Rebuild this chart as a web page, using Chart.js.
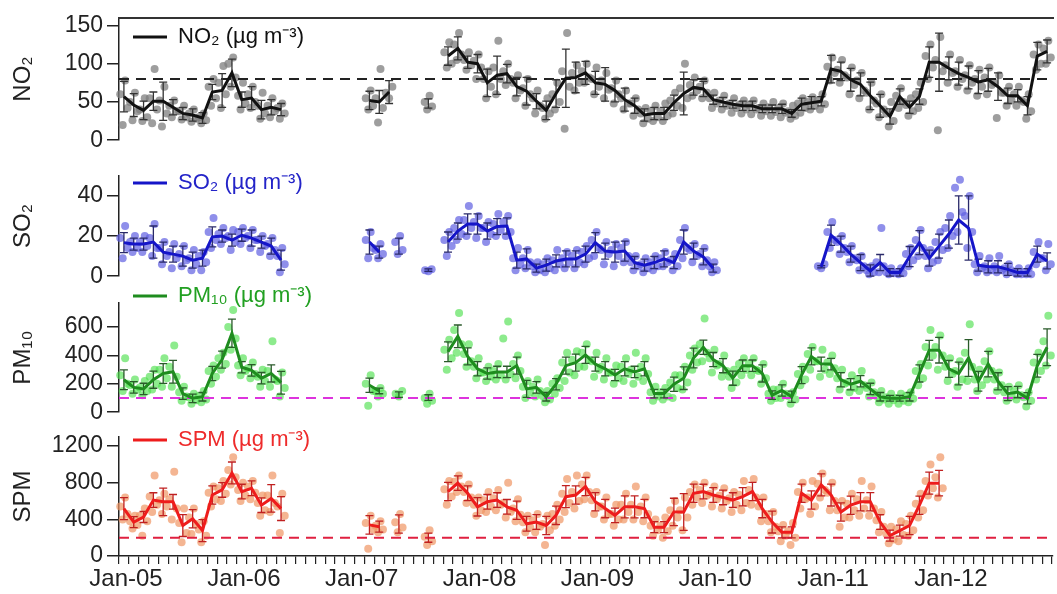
<!DOCTYPE html>
<html>
<head>
<meta charset="utf-8">
<script src="https://cdn.jsdelivr.net/npm/chart.js@4.4.1/dist/chart.umd.min.js"></script>
<style>
  html, body { margin: 0; padding: 0; background: #fff; }
  #wrap { position: relative; width: 1057px; height: 594px; overflow: hidden; background: #fff; }
  #wrap canvas { position: absolute; left: 0; }
</style>
</head>
<body>
<div id="wrap">
  <canvas id="no2" width="1057" height="158" style="top:0px"></canvas>
  <canvas id="so2" width="1057" height="136" style="top:158px"></canvas>
  <canvas id="pm10" width="1057" height="159" style="top:271px"></canvas>
  <canvas id="spm" width="1057" height="179" style="top:415px"></canvas>
</div>
<script>
const N = null;
// month index 0 = Jan-05 ... 94 = Nov-12
const yearTicks = ['Jan-05','Jan-06','Jan-07','Jan-08','Jan-09','Jan-10','Jan-11','Jan-12'];
const no2Ticks = [0, 50, 100, 150];
const so2Ticks = [0, 20, 40];
const pm10Ticks = [0, 200, 400, 600];
const spmTicks = [0, 400, 800, 1200];

const no2Mean = [57,46,39,51,51,43,35,33,29,63,65,88,53,55,40,43,40,
  N,N,N,N,N,N,N,N,
  52,50,63,N,N,N,48,N,
  110,120,102,100,75,85,87,70,64,51,
  39,61,81,82,88,75,73,65,53,45,
  33,35,35,49,61,69,67,53,50,47,
  45,45,41,41,41,35,47,49,51,93,
  90,79,73,58,45,31,57,43,57,102,
  102,94,87,82,76,79,70,58,58,45,
  110,116];
const no2Err = [20,15,12,12,25,10,8,8,7,10,22,18,10,15,12,10,8,
  N,N,N,N,N,N,N,N,
  12,15,15,N,N,N,6,N,
  12,15,8,12,18,25,12,12,18,10,
  12,18,38,20,15,15,22,15,15,10,
  8,8,8,10,28,10,10,6,6,5,
  6,6,5,5,6,5,8,8,6,18,
  12,15,15,18,15,10,10,8,10,20,
  38,15,15,15,15,15,18,10,8,12,
  18,15];

const so2Mean = [16.7,16,16,17,12,11,10,8,9,19.6,20,18,20.4,19,17,15,8,
  N,N,N,N,N,N,N,N,
  17,12,N,15,N,N,3,N,
  17,22.5,26,26,22.5,24.7,25,8,8.6,4,
  5.5,7.6,8.6,8.6,11,16.7,12.5,12,12.5,6.8,
  5.5,6.8,8.6,6.8,17,12.5,9.6,4,
  N,N,N,N,N,N,N,N,N,N,
  4.7,20.4,16,11,6.8,2.6,6.8,1.8,1.8,9.8,
  16.7,9,15,21,28,24,5.5,4.7,4.7,3.4,
  1.8,1.8,11,7.6];
const so2Err = [5,3,3,8,5,4,5,4,4,5,3,3,3,4,3,4,5,
  N,N,N,N,N,N,N,N,
  6,3,N,4,N,N,0.6,N,
  5,4,5,5,4,4,4,4,5,2,
  3,3,4,4,4,5,4,5,5,3,
  3,3,4,3,6,4,4,2,
  N,N,N,N,N,N,N,N,N,N,
  0.6,5,4,4,4,3,4,2,2,5,
  6,4,6,7,12,16,3,3,3,3,
  2,2,4,4];

const pm10Mean = [229,175,164,229,273,285,131,98,109,273,371,557,317,295,240,273,208,
  N,N,N,N,N,N,N,N,
  190,150,N,124,N,N,103,N,
  426,535,393,306,273,284,284,328,164,175,
  109,197,328,350,404,339,306,262,306,284,
  306,131,131,197,240,382,458,371,328,240,
  328,328,273,120,153,109,262,393,339,339,
  229,197,218,164,109,98,98,109,273,437,
  437,306,273,382,218,339,218,131,142,98,
  328,458];
const pm10Err = [70,40,40,60,70,80,40,30,30,50,60,100,40,40,40,60,80,
  N,N,N,N,N,N,N,N,
  50,20,N,20,N,N,20,N,
  70,80,60,50,40,40,40,60,60,40,
  30,40,60,60,60,50,50,40,50,40,
  50,30,30,50,80,70,50,50,50,50,
  40,40,60,30,40,40,60,60,50,40,
  50,40,40,40,30,20,20,30,60,70,
  90,60,80,130,70,90,60,50,40,40,
  80,130];

const spmMean = [518,371,426,611,592,592,333,407,278,666,722,907,704,740,555,629,518,
  N,N,N,N,N,N,N,N,
  340,320,N,350,N,N,200,N,
  704,796,685,537,592,611,537,500,352,371,
  333,444,648,666,759,592,518,444,537,537,
  518,315,315,481,481,685,704,666,640,611,
  648,704,518,371,259,259,685,611,777,666,
  481,555,592,592,371,222,278,333,555,796,
  796,
  N,N,N,N,N,N,N,N,N,N,N];
const spmErr = [120,60,60,80,150,80,120,100,120,100,80,120,80,80,80,150,130,
  N,N,N,N,N,N,N,N,
  100,60,N,100,N,N,50,N,
  100,80,80,100,80,80,80,100,80,80,
  100,100,120,100,100,100,100,80,120,120,
  100,60,60,150,200,100,80,80,80,80,
  100,100,100,120,60,60,100,100,120,120,
  100,100,100,100,80,60,60,100,100,120,
  140,
  N,N,N,N,N,N,N,N,N,N,N];

// individual samples, one list per month
const no2Dots = [
  [60,20,78,42],[50,26,62,38],[40,25,55,30],[55,22,93,40],[52,18,70,35],[45,30,52,38],[38,27,45,30],[35,24,40,28],[30,22,35,26],[70,45,80,55],[75,42,97,60],[100,70,108,82],
  [58,40,75,48],[60,42,70,50],[45,28,62,35],[45,30,55,38],[42,28,48,35],[],[],[],[],[],[],[],
  [],[55,40,65,45],[55,23,93,42],[62,55,70],[],[],[],[50,40,58,44],[],[115,95,128,100],[125,105,140,112],[105,92,115,98],
  [104,80,112,95],[80,55,90,70],[95,60,130,80],[90,72,100,80],[75,55,85,65],[68,45,80,60],[55,35,65,45],[42,28,55,35],[60,40,75,50],[90,15,140,70],[88,65,98,75],[90,75,100,82],
  [80,60,95,70],[78,55,88,66],[68,48,78,60],[55,40,65,48],[48,32,55,40],[35,22,42,28],[38,25,45,30],[38,25,48,32],[52,35,62,45],[68,42,100,55],[72,58,82,65],[70,55,78,62],
  [55,42,62,48],[52,40,58,45],[48,36,55,42],[46,35,52,40],[46,34,52,40],[42,32,48,38],[43,32,50,37],[42,30,48,36],[38,28,45,32],[48,36,55,42],[50,40,56,45],[52,40,60,47],
  [96,78,108,88],[92,75,105,85],[82,60,95,72],[78,55,88,65],[62,40,75,52],[48,30,60,40],[35,18,50,25],[58,42,68,50],[46,32,55,38],[60,42,75,50],[110,80,125,95],[105,13,135,90],
  [98,75,112,88],[90,70,105,80],[85,65,98,75],[80,58,92,70],[82,60,95,72],[75,29,85,62],[62,45,70,52],[60,45,70,52],[50,28,60,38],[112,92,125,100],[120,100,130,108]];

const so2Dots = [
  [19,9,25,14],[17,12,20,14],[17,12,20,15],[19,10,26,14],[14,6,17,10],[12,4,16,9],[11,5,15,8],[9,3,13,6],[10,3,12,7],[22,14,29,18],[21,16,24,19],[20,13,23,17],
  [22,16,24,19],[20,14,23,18],[18,12,20,15],[16,10,19,13],[10,2,14,6],[],[],[],[],[],[],[],
  [],[18,9,22,14],[13,9,16,11],[],[17,11,20,13],[],[],[3,2.5,3.5],[],[18,10,22,15],[24,18,28,21],[28,20,35,24],
  [27,19,30,24],[24,17,27,21],[26,20,31,23],[27,20,30,22],[9,3,14,6],[9,4,13,7],[5,2,7,3],[6,2,9,4],[8,3,13,6],[9,4,12,7],[10,4,13,7],[12,6,15,9],
  [18,10,22,14],[13,6,17,11],[13,5,16,10],[14,7,17,10],[7,3,10,5],[6,2,9,4],[7,3,10,5],[9,5,12,7],[8,3,11,5],[18,9,24,14],[13,7,16,10],[11,5,14,8],
  [5,2,7,3],[],[],[],[],[],[],[],[],[],[],[5,4,6],
  [22,14,27,18],[17,11,20,14],[12,7,15,9],[8,3,10,5],[3,1,5,2],[7,2,24,5],[2,1,4,1.5],[2,1,4,1.5],[11,5,14,8],[18,10,23,14],[10,4,13,7],[17,8,22,13],
  [24,14,30,20],[44,22,48,32],[30,14,40,22],[6,2,10,4],[5,2,9,3],[5,2,10,3],[4,1,6,3],[2,1,4,1],[2,1,4,1],[12,6,17,9],[9,3,16,6]];

const pm10Dots = [
  [260,150,380,200],[190,130,230,160],[175,120,220,150],[250,160,300,200],[300,180,380,240],[320,180,470,250],[140,80,180,110],[105,60,130,85],[115,70,150,90],[290,200,330,250],[380,300,420,340],[600,440,720,520],
  [330,260,380,290],[310,240,350,270],[250,180,300,220],[290,180,500,230],[220,110,280,170],[],[],[],[],[],[],[],
  [],[200,45,260,150],[150,110,170,130],[],[130,110,150],[],[],[100,60,130,80],[],[440,300,510,380],[580,420,700,480],[410,320,480,360],
  [320,240,380,280],[280,220,320,250],[290,230,340,260],[520,230,640,270],[340,240,400,290],[180,100,220,140],[180,110,230,150],[115,70,150,90],[200,130,240,170],[350,220,420,280],[370,260,430,320],[420,320,480,370],
  [360,250,420,300],[320,230,380,280],[280,200,330,240],[320,220,380,270],[300,200,420,250],[320,220,380,270],[140,80,180,110],[140,90,170,110],[210,100,260,170],[260,160,320,210],[400,300,450,350],[480,360,660,420],
  [380,280,440,330],[340,250,400,290],[250,170,300,210],[340,260,380,300],[340,260,380,300],[290,200,340,240],[130,80,160,100],[160,100,200,130],[115,60,140,90],[270,190,320,230],[410,300,460,360],[360,250,440,300],
  [350,270,400,310],[240,160,300,200],[210,140,260,170],[230,150,290,190],[170,110,210,140],[115,70,150,90],[105,60,130,85],[100,60,130,80],[115,70,140,95],[290,190,340,240],[460,330,580,400],[460,300,540,400],
  [320,220,380,270],[290,180,360,230],[420,220,620,320],[230,150,300,190],[360,230,430,290],[230,150,280,190],[140,80,180,110],[150,90,190,120],[105,40,140,80],[350,230,420,290],[500,330,680,400]];

const spmDots = [
  [540,400,640,460],[380,300,440,340],[440,220,520,380],[650,480,880,560],[610,460,680,540],[620,400,920,520],[360,150,520,250],[420,240,520,350],[290,150,380,220],[690,540,760,620],[740,600,820,680],[940,780,1080,860],
  [720,600,800,660],[760,620,820,690],[580,440,660,500],[660,480,880,580],[540,250,680,440],[],[],[],[],[],[],[],
  [],[360,80,440,290],[330,260,380,290],[],[370,260,460,310],[],[],[210,120,280,160],[],[730,560,820,650],[810,700,880,760],[700,580,780,640],
  [560,440,640,500],[610,480,700,540],[630,500,720,560],[580,420,800,480],[520,380,620,450],[370,260,440,310],[390,260,460,320],[350,120,440,280],[460,330,560,400],[680,480,840,580],[700,520,880,600],[780,620,880,700],
  [610,460,700,540],[540,400,640,460],[460,330,560,400],[560,400,680,480],[560,400,760,480],[540,380,640,460],[330,220,400,280],[330,200,420,270],[500,330,600,420],[500,280,640,420],[700,560,780,640],[720,580,800,660],
  [680,540,760,620],[660,520,740,600],[630,480,700,560],[670,500,820,580],[720,560,840,640],[540,380,640,460],[380,260,480,320],[270,160,340,220],[270,120,360,200],[700,520,800,620],[640,460,820,540],[790,640,900,720],
  [690,500,800,600],[500,320,600,420],[570,420,680,500],[620,440,820,520],[610,440,760,520],[390,260,480,320],[240,140,320,180],[290,160,380,230],[350,220,440,280],[570,420,680,500],[820,660,1000,740],[860,640,1080,740],
  [],[],[],[],[],[],[],[],[],[],[]];

const xMin = 0, xMax = 95.1;

Chart.defaults.font.family = "'Liberation Sans', Arial, sans-serif";
Chart.defaults.color = '#222';
Chart.defaults.animation = false;

// vertical error bars for the monthly means, drawn just under the mean line
const errorBars = {
  id: 'errorBars',
  beforeDatasetDraw(chart, args) {
    const ds = chart.data.datasets[args.index];
    if (!ds.errors) return;
    const xs = chart.scales.x, ys = chart.scales.y, ctx = chart.ctx;
    ctx.save();
    ctx.strokeStyle = ds.errColor;
    ctx.lineWidth = 1.3;
    ds.data.forEach((p, i) => {
      if (p.y == null) return;
      const px = xs.getPixelForValue(p.x);
      const top = ys.getPixelForValue(p.y + ds.errors[i]);
      const bot = ys.getPixelForValue(Math.max(p.y - ds.errors[i], ys.min));
      ctx.beginPath();
      ctx.moveTo(px, top); ctx.lineTo(px, bot);
      ctx.moveTo(px - 4, top); ctx.lineTo(px + 4, top);
      ctx.moveTo(px - 4, bot); ctx.lineTo(px + 4, bot);
      ctx.stroke();
    });
    ctx.restore();
  }
};

function dotPoints(dots) {
  const pts = [];
  dots.forEach((vals, i) => vals.forEach((v, k) => pts.push({x: i + (k + 0.5) / vals.length, y: v})));
  return pts;
}

function panel(id, o) {
  const datasets = [{
    data: o.mean.map((v, i) => ({x: i + 0.5, y: v})),
    borderColor: o.line, borderWidth: 3, pointRadius: 0, spanGaps: false,
    errors: o.err, errColor: o.errColor
  }];
  if (o.limit != null) {
    datasets.push({
      data: [{x: xMin, y: o.limit}, {x: xMax, y: o.limit}],
      borderColor: o.limitColor, borderWidth: 2, borderDash: [10, 7], pointRadius: 0
    });
  }
  datasets.push({
    data: dotPoints(o.dots), showLine: false, clip: false,
    pointRadius: 4, pointBackgroundColor: o.dot, pointBorderWidth: 0
  });

  const scales = {
    x: {
      type: 'linear', min: xMin, max: xMax, display: !!o.showX,
      ticks: {
        stepSize: 1, autoSkip: false, maxRotation: 0, includeBounds: false, padding: 3, labelOffset: 7,
        font: {size: 24, lineHeight: 1.0}, color: '#222',
        callback: v => (v % 12 === 0 ? yearTicks[v / 12] : '')
      },
      grid: {drawOnChartArea: false, color: '#222', tickLength: 8, lineWidth: 1.2},
      border: {color: '#222', width: 1.5}
    },
    y: {
      min: 0, max: o.max,
      afterBuildTicks: s => { s.ticks = o.ticks.map(v => ({value: v})); },
      ticks: {font: {size: 23}, color: '#222', padding: 4, callback: v => String(v)},
      grid: {drawOnChartArea: false, color: '#222', tickLength: 12, lineWidth: 1.5},
      border: {color: '#222', width: 1.5},
      title: {display: true, text: o.title, font: {size: 24}, color: '#222', padding: {top: 9, bottom: 0}},
      afterFit: s => { s.width = 119; }
    }
  };
  if (o.frameTop) {
    scales.xTop = {
      type: 'linear', axis: 'x', position: 'top', min: xMin, max: xMax, display: true,
      ticks: {display: false}, grid: {display: false, drawTicks: false},
      border: {display: true, color: '#333', width: 2}
    };
  }

  return new Chart(document.getElementById(id), {
    type: 'line',
    data: {datasets},
    options: {
      responsive: false,
      devicePixelRatio: 1,
      layout: {padding: o.pad},
      scales,
      plugins: {
        tooltip: {enabled: false},
        legend: {
          position: 'chartArea', align: 'start', onClick: null,
          title: {display: o.legendShift > 0, text: '', padding: 0, font: {size: 10, lineHeight: (o.legendShift || 10) + 'px'}},
          labels: {
            boxWidth: 34, boxHeight: 3, padding: 14, font: {size: 22},
            generateLabels: () => [{text: o.label, fillStyle: o.line, strokeStyle: o.line, lineWidth: 0, fontColor: o.legendColor, hidden: false, datasetIndex: 0}]
          }
        }
      }
    },
    plugins: [errorBars]
  });
}

panel('no2', {
  title: 'NO₂', label: 'NO₂ (µg m⁻³)', mean: no2Mean, err: no2Err, dots: no2Dots, ticks: no2Ticks,
  max: 160, limit: 80, limitColor: '#222',
  line: '#111', errColor: '#333', dot: 'rgba(125,125,125,0.75)', legendColor: '#111',
  pad: {top: 16, bottom: 7, left: 0, right: 0}, frameTop: true, legendShift: 12
});
panel('so2', {
  title: 'SO₂', label: 'SO₂ (µg m⁻³)', mean: so2Mean, err: so2Err, dots: so2Dots, ticks: so2Ticks,
  max: 50, limit: null,
  line: '#1515c8', errColor: '#2a2a6a', dot: 'rgba(95,95,225,0.7)', legendColor: '#2424c8',
  pad: {top: 10, bottom: 8, left: 0, right: 0}
});
panel('pm10', {
  title: 'PM₁₀', label: 'PM₁₀ (µg m⁻³)', mean: pm10Mean, err: pm10Err, dots: pm10Dots, ticks: pm10Ticks,
  max: 770, limit: 100, limitColor: '#dd33dd',
  line: '#1e8c1e', errColor: '#2a5a2a', dot: 'rgba(80,225,80,0.65)', legendColor: '#22a022',
  pad: {top: 32, bottom: 8, left: 0, right: 0}
});
panel('spm', {
  title: 'SPM', label: 'SPM (µg m⁻³)', mean: spmMean, err: spmErr, dots: spmDots, ticks: spmTicks,
  max: 1300, limit: 200, limitColor: '#e02040',
  line: '#ee1c1c', errColor: '#c02020', dot: 'rgba(240,150,100,0.7)', legendColor: '#ee2b2b',
  pad: {top: 22, bottom: 0, left: 0, right: 0}, showX: true
});
</script>
</body>
</html>
